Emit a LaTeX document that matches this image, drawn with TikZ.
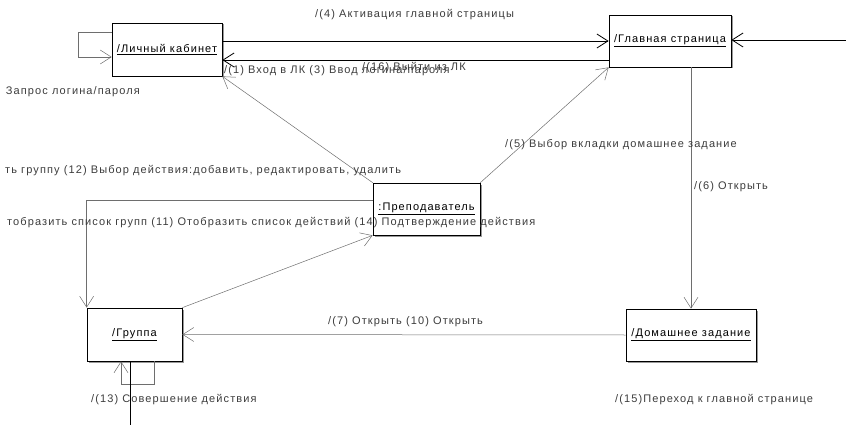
\documentclass[tikz,border=0pt]{standalone}
\usepackage{fontspec}
\setmainfont[LetterSpace=10]{Liberation Sans}
\usetikzlibrary{positioning, arrows.meta, calc, shadows}
\definecolor{umlLine}{HTML}{6E6E6E}
\definecolor{umlText}{HTML}{3C3C3C}

\begin{document}
\begin{tikzpicture}[x=1pt, y=-1pt, font=\fontsize{11}{13}\selectfont,
    obj/.style={draw=black, fill=white, line width=0.7pt, inner sep=0pt,
      font=\fontsize{11}{13}\selectfont,
      drop shadow={shadow xshift=1.5pt, shadow yshift=-1.5pt, fill=black!40, opacity=1}},
    msg/.style={draw=umlLine, line width=0.5pt, -{Straight Barb[length=11pt, width=14pt]}},
    link/.style={msg, draw=black, line width=0.8pt},
    lbl/.style={text=umlText, inner sep=0pt, anchor=west}]
  \useasboundingbox (0,0) rectangle (846,425);
  % Objects
  \node[obj, minimum width=110pt, minimum height=53pt] (lk) at (167,49.5) {\underline{/Личный кабинет}};
  \node[obj, minimum width=122pt, minimum height=52pt] (main) at (670,41) {\underline{/Главная страница}};
  \node[obj, minimum width=107pt, minimum height=52pt] (teach) at (426.5,209) {\underline{:Преподаватель}};
  \node[obj, minimum width=95pt, minimum height=53pt] (grp) at (134.5,334.5) {\underline{/Группа}};
  \node[obj, minimum width=130pt, minimum height=52pt] (hw) at (691,335) {\underline{/Домашнее задание}};
  % Free ends
  \coordinate (mainIn) at (850,40);
  \coordinate (grpIn) at (130,430);
  % Links
  \draw[msg] ([yshift=17.5pt]lk.west) -- ++(-33,0) |- ([yshift=-7.5pt]lk.west);
  \draw[link] (lk.east |- main.west) -- (main.west);
  \draw[link] ([yshift=-10.5pt]main.west |- lk.east) -- ([yshift=-10.5pt]lk.east);
  \draw[link] (mainIn) -- (mainIn -| main.east);
  \draw[msg] (teach.north west) -- (lk.south east);
  \draw[msg] (teach.north east) -- (main.south west);
  \draw[msg] (main.south -| hw.north) -- (hw.north);
  \draw[msg] (hw.west) -- (grp.east);
  \draw[msg] ([yshift=9pt]teach.west) -| (grp.north west);
  \draw[msg] (grp.north east) -- (teach.south west);
  \draw[msg] ([xshift=19.5pt]grp.south) -- ++(0,23) -| ([xshift=-13.5pt]grp.south);
  \draw[black, line width=0.6pt] (grpIn) -- (grpIn |- grp.south);
  % Messages
  \node[lbl] (m4) at (315,15) {/(4) Активация главной страницы};
  \node[lbl, anchor=east] (m2) at (140,92) {Запрос логина/пароля};
  \node[lbl] (m1) at (224,71) {/(1) Вход в ЛК (3) Ввод логина/пароля};
  \node[lbl] (m16) at (362,68) {/(16) Выйти из ЛК};
  \node[lbl] (m5) at (505,145) {/(5) Выбор вкладки домашнее задание};
  \node[lbl] (m6) at (694,187) {/(6) Открыть};
  \node[lbl] (m12) at (5,171) {ть группу (12) Выбор действия:добавить, редактировать, удалить};
  \node[lbl] (m11) at (7,223) {тобразить список групп (11) Отобразить список действий (14) Подтверждение действия};
  \node[lbl] (m7) at (328,322) {/(7) Открыть (10) Открыть};
  \node[lbl] (m13) at (91,400) {/(13) Совершение действия};
  \node[lbl] (m15) at (615,400) {/(15)Переход к главной странице};
\end{tikzpicture}
\end{document}
